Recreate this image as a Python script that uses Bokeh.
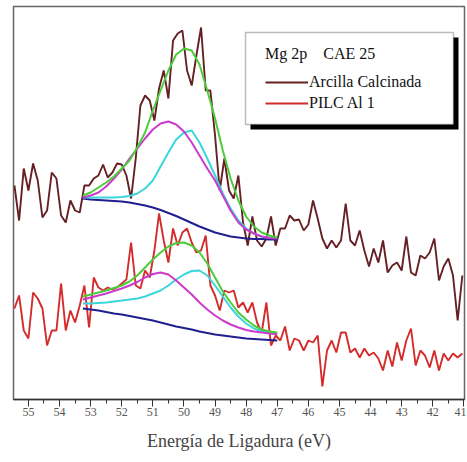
from bokeh.plotting import figure
from bokeh.models import Range1d, FixedTicker, BoxAnnotation, Legend, LegendItem
from bokeh.embed import file_html
from bokeh.resources import INLINE

# ---- data (intensity in arbitrary units) ----
E_START = 55.45
E_STEP = 0.15

arcilla = [215, 180, 232, 210, 237, 220, 183, 190, 228, 222,
           185, 178, 200, 190, 188, 215, 215, 222, 225, 236,
           223, 228, 237, 236, 225, 202, 242, 295, 305, 300,
           280, 312, 330, 302, 360, 367, 370, 330, 315, 345,
           373, 310, 310, 265, 210, 242, 210, 202, 225, 178,
           155, 184, 160, 154, 162, 184, 155, 172, 172, 185,
           180, 181, 170, 176, 200, 182, 162, 152, 160, 153,
           160, 197, 160, 155, 170, 150, 134, 152, 138, 160,
           128, 135, 138, 130, 164, 128, 125, 145, 142, 148,
           162, 120, 134, 142, 125, 80, 125]

pilc = [92, 105, 70, 62, 108, 102, 92, 55, 70, 70,
        117, 70, 90, 78, 95, 115, 73, 123, 113, 110,
        113, 111, 113, 117, 121, 158, 115, 112, 130, 123,
        150, 187, 160, 138, 172, 155, 168, 172, 158, 148,
        150, 165, 115, 105, 90, 110, 108, 110, 93, 98,
        88, 98, 78, 68, 98, 55, 65, 60, 74, 50,
        62, 60, 50, 60, 58, 65, 14, 50, 60, 48,
        68, 68, 48, 52, 43, 52, 45, 48, 42, 30,
        50, 34, 58, 40, 60, 72, 35, 50, 45, 33,
        50, 30, 47, 40, 47, 43, 47]

energy = [round(E_START - E_STEP * k, 2) for k in range(len(arcilla))]

fit_energy = [53.25, 53.0, 52.75, 52.5, 52.25, 52.0, 51.75, 51.5, 51.25, 51.0,
              50.75, 50.5, 50.25, 50.0, 49.75, 49.5, 49.25, 49.0, 48.75, 48.5,
              48.25, 48.0, 47.75, 47.5, 47.25, 47.0]

# top spectrum fit (Arcilla Calcinada)
top_bg = [202, 201, 200.5, 200, 199.5, 199, 198, 196.5, 195, 193,
          190.5, 187.5, 184.5, 181, 177.5, 174, 171, 168, 166, 164,
          163, 162, 161.5, 161.5, 161, 161]
top_c1 = [203, 203, 203, 203, 203, 203.5, 204.5, 207, 212, 220,
          234, 248, 261, 268, 270, 258, 242, 225, 207, 192,
          180, 172, 167, 164, 163, 162.5]
top_c2 = [203, 205, 208, 214, 222, 231, 242, 252, 262, 271,
          277, 279, 276, 269, 258, 245, 232, 220, 205, 190,
          178, 171, 167, 164, 162.5, 162]
top_env = [205, 208, 213, 218, 224, 232, 240, 253, 268, 290,
           310, 330, 346, 352, 350, 336, 310, 282, 250, 222,
           200, 184, 174, 168, 165, 163]

# bottom spectrum fit (PILC Al 1)
bot_bg = [92, 91, 90, 88.5, 87, 86, 84.5, 83, 81.5, 80,
          78, 76, 74, 72.5, 71, 69, 67.5, 66, 65, 64,
          63, 62, 61.5, 61, 60.5, 60]
bot_c1 = [97, 97, 97.5, 98, 99, 100, 101, 102, 104, 107,
          110, 115, 121, 126, 129.5, 130, 125, 115, 104, 93,
          84, 77, 72, 69, 67.5, 66.5]
bot_c2 = [101, 103, 105, 107, 109.5, 112, 115, 118.5, 123, 126.5,
          128, 126, 120, 113, 106, 98, 91, 85, 80, 76,
          73, 70.5, 69, 68, 67, 66.5]
bot_env = [104, 106, 108, 110, 112.5, 115, 119, 125, 133, 141,
           148, 154, 157.5, 158, 155, 148, 137, 123, 109, 98,
           88, 81, 75, 71, 69, 68]

tick_values = list(range(41, 56))
minor_values = [t + 0.5 for t in range(41, 55)]

legend_title = "Mg 2p\u00a0\u00a0\u00a0\u00a0CAE 25"
series_names = ["Arcilla Calcinada", "PILC Al 1"]

# ---- colours ----
C_TOP = "#652024"
C_BOT = "#d42b2b"
C_ENV = "#4ccc3a"
C_C2 = "#cc3acc"
C_C1 = "#3ad6dc"
C_BG = "#1f1f8f"

SERIF = "Liberation Serif"

p = figure(width=466, height=460,
           x_range=Range1d(55.48, 40.98), y_range=Range1d(1, 394),
           output_backend="svg", toolbar_location=None,
           y_axis_location=None,
           min_border_left=13, min_border_right=2,
           min_border_top=6, min_border_bottom=61)
p.xgrid.visible = False
p.ygrid.visible = False
p.outline_line_color = "#666666"
p.outline_line_width = 1.5
p.background_fill_color = "white"
p.border_fill_color = "white"

r_top = p.line(energy, arcilla, line_color=C_TOP, line_width=1.9)
r_bot = p.line(energy, pilc, line_color=C_BOT, line_width=1.9)

for bg, c1, c2, env in [(top_bg, top_c1, top_c2, top_env),
                        (bot_bg, bot_c1, bot_c2, bot_env)]:
    p.line(fit_energy, bg, line_color=C_BG, line_width=2)
    p.line(fit_energy, c1, line_color=C_C1, line_width=2)
    p.line(fit_energy, c2, line_color=C_C2, line_width=2)
    p.line(fit_energy, env, line_color=C_ENV, line_width=2)

ax = p.xaxis[0]
ax.ticker = FixedTicker(ticks=tick_values, minor_ticks=minor_values)
ax.axis_label = "Energía de Ligadura (eV)"
ax.axis_label_text_font = SERIF
ax.axis_label_text_font_size = "18px"
ax.axis_label_text_font_style = "normal"
ax.axis_label_text_color = "#444444"
ax.axis_label_standoff = 12
ax.major_label_text_font = SERIF
ax.major_label_text_font_size = "12px"
ax.major_label_text_color = "#555555"
ax.major_label_standoff = 1
ax.axis_line_color = "#333333"
ax.axis_line_width = 1.5
ax.major_tick_line_color = "#333333"
ax.minor_tick_line_color = "#333333"
ax.major_tick_out = 7
ax.major_tick_in = 0
ax.minor_tick_out = 4
ax.minor_tick_in = 0

units = dict(left_units="screen", right_units="screen",
             top_units="screen", bottom_units="screen")
shadow = BoxAnnotation(left=237, right=445, bottom=270, top=362,
                       fill_color="black", fill_alpha=1, line_color=None, **units)
box = BoxAnnotation(left=232, right=440, bottom=275, top=367,
                    fill_color="white", fill_alpha=1,
                    line_color="#222222", line_width=1.5, **units)
p.add_layout(shadow)
p.add_layout(box)

legend = Legend(items=[LegendItem(label=series_names[0], renderers=[r_top]),
                       LegendItem(label=series_names[1], renderers=[r_bot])],
                location=(252, 286), title=legend_title,
                margin=0, padding=11, spacing=1,
                border_line_color=None, background_fill_alpha=0,
                title_text_font=SERIF, title_text_font_size="16px",
                title_text_font_style="normal", title_text_color="#111111",
                title_standoff=9,
                label_text_font=SERIF, label_text_font_size="16px",
                label_text_color="#111111",
                glyph_width=43, glyph_height=20, label_height=20,
                label_standoff=1)
p.add_layout(legend)

open("out.html", "w").write(file_html(p, INLINE))
